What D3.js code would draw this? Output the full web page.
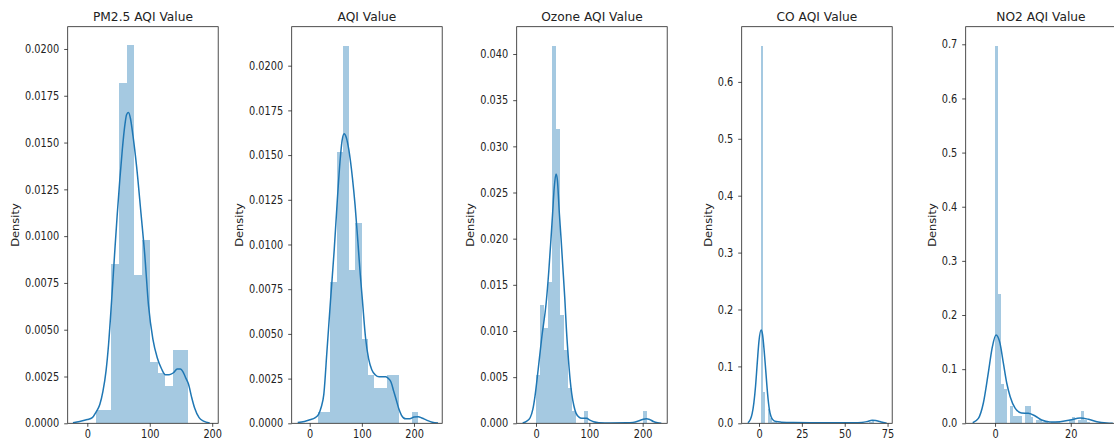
<!DOCTYPE html>
<html>
<head>
<meta charset="utf-8">
<script src="https://cdn.jsdelivr.net/npm/d3@7"></script>
<style>
  body { margin: 0; background: #fff; }
  text { font-family: "DejaVu Sans", sans-serif; fill: #222; }
</style>
</head>
<body>
<div id="chart"></div>
<script>
var svgWidth = 1114;
var svgHeight = 445;

// Panel titles
var titles = ["PM2.5 AQI Value", "AQI Value", "Ozone AQI Value", "CO AQI Value", "NO2 AQI Value"];

// Histogram bins: first edge, bin width, density per bin
var binStarts = [14, 15.9, 0.6, 1, 0];
var binWidths = [12.3, 11.96, 7.44, 1.32, 0.78125];

var pm25Hist = [0.0007, 0.0007, 0.0085, 0.0182, 0.0202, 0.0079, 0.0098, 0.0033, 0.0027, 0.0020, 0.0039, 0.0039];
var aqiHist = [0.00065, 0.00065, 0.0079, 0.0152, 0.0211, 0.0086, 0.0112, 0.0047, 0.0027, 0.0020, 0.0020, 0.0027, 0.0027, 0, 0, 0.00065];
var ozoneHist = [0.0052, 0.0128, 0.0103, 0.0153, 0.0409, 0.0319, 0.0117, 0.0079, 0.0038, 0.0013, 0, 0, 0.0013, 0, 0,
                 0, 0, 0, 0, 0, 0, 0, 0, 0, 0, 0, 0, 0.0013];
var coHist = [0.663, 0.0555, 0, 0.025, 0.009, 0.003, 0.0015, 0.001, 0, 0, 0, 0, 0, 0, 0, 0, 0, 0, 0, 0, 0, 0, 0, 0, 0,
              0, 0, 0, 0, 0, 0, 0, 0, 0, 0, 0, 0, 0, 0, 0, 0, 0, 0, 0, 0, 0, 0, 0, 0.002, 0.006];
var no2Hist = [0.697, 0.238, 0.073, 0.063, 0, 0.032, 0.013, 0.013, 0.013, 0, 0.032, 0.032, 0.012, 0, 0.006, 0.006,
               0.003, 0.003, 0, 0.002, 0.002, 0.002, 0, 0, 0, 0.006, 0.012, 0, 0.006, 0.023, 0.006, 0.003];

// KDE curves as [value, density]
var pm25Kde = [[-23, 0.00003], [-12, 0.0001], [0, 0.0002], [8, 0.0003], [14, 0.0006], [20, 0.001], [25, 0.0017],
  [30, 0.0028], [34, 0.0042], [39, 0.0066], [44, 0.0092], [48, 0.0112], [52, 0.013], [56, 0.0146], [60, 0.0159],
  [63, 0.0165], [66, 0.0166], [69, 0.0163], [73, 0.0154], [79, 0.0137], [86, 0.0112], [92, 0.0090], [98, 0.0063],
  [105, 0.0045], [112, 0.0035], [119, 0.0029], [125, 0.0026], [131, 0.0026], [138, 0.0027], [144, 0.0029],
  [149, 0.0029], [154, 0.0027], [158, 0.0024], [162, 0.0021], [167, 0.0014], [172, 0.0008], [179, 0.0003],
  [186, 0.00012], [196, 0.00002]];
var aqiKde = [[-23, 0.00005], [-10, 0.0001], [1, 0.0002], [10, 0.0003], [17, 0.0005], [22, 0.0009], [27, 0.0016],
  [33, 0.0040], [40, 0.0069], [47, 0.0097], [53, 0.0125], [58, 0.0146], [62, 0.0158], [66, 0.0162], [70, 0.016],
  [75, 0.0153], [82, 0.0137], [87, 0.0122], [92, 0.0103], [97, 0.0083], [101, 0.0069], [107, 0.0048], [113, 0.0036],
  [119, 0.0030], [126, 0.0027], [133, 0.0026], [140, 0.0026], [146, 0.0026], [151, 0.0025], [156, 0.0023],
  [161, 0.0018], [166, 0.0013], [171, 0.0008], [176, 0.00045], [184, 0.00025], [192, 0.00025], [200, 0.00035],
  [208, 0.00037], [216, 0.00028], [224, 0.00018], [235, 0.00006], [246, 0.00002]];
var ozoneKde = [[-25, 0.00003], [-18, 0.0002], [-11, 0.0006], [-6, 0.0015], [-2, 0.0029], [4, 0.0058], [11, 0.0094],
  [19, 0.013], [24, 0.0165], [28, 0.0199], [31, 0.0226], [34, 0.0254], [37.5, 0.027], [40, 0.0264], [43.7, 0.0228],
  [47, 0.0200], [50, 0.0172], [54, 0.0135], [57, 0.0102], [61, 0.0068], [64, 0.0047], [67, 0.0032], [71, 0.0019],
  [75, 0.0011], [80, 0.0007], [86, 0.00055], [91, 0.00056], [95, 0.00054], [101, 0.00035], [108, 0.00017],
  [118, 0.00007], [140, 0.00004], [170, 0.00005], [182, 0.0001], [192, 0.00025], [200, 0.00042], [207, 0.0005],
  [213, 0.00042], [220, 0.0002], [228, 0.00006], [235, 0.00001]];
var coKde = [[-6.5, 0.001], [-5, 0.007], [-4, 0.017], [-3, 0.036], [-2, 0.066], [-1, 0.107], [0, 0.145], [1.2, 0.164],
  [2, 0.157], [3, 0.128], [4, 0.09], [5, 0.052], [6, 0.025], [7, 0.012], [8.5, 0.005], [10, 0.003], [13, 0.002],
  [20, 0.0012], [30, 0.001], [45, 0.001], [55, 0.0011], [60, 0.0015], [63, 0.003], [66, 0.0055], [68, 0.005],
  [70.5, 0.003], [72.5, 0.0013], [74.5, 0.0002]];
var no2Kde = [[-5.9, 0.001], [-4.4, 0.009], [-3.1, 0.037], [-1.8, 0.092], [-0.7, 0.1415], [0.26, 0.163], [1.3, 0.148],
  [2.2, 0.111], [3.1, 0.074], [4, 0.049], [5.3, 0.028], [7, 0.019], [8.8, 0.0185], [10.6, 0.0135], [12.3, 0.006],
  [14.5, 0.0025], [17.2, 0.003], [19.8, 0.006], [22.5, 0.0098], [24.7, 0.0074], [26.9, 0.003], [29.5, 0.0006],
  [31.1, 0.0001]];

// Axis ranges and ticks
var xDomains = [[-31.4, 209.6], [-34.5, 254], [-36.2, 246], [-10.1, 77.7], [-7.75, 32]];
var yMaxes = [0.02119, 0.02218, 0.04296, 0.697, 0.7325];
var xTicks = [[0, 100, 200], [0, 100, 200], [0, 100, 200], [0, 25, 50, 75], [0, 20]];
var yTicks = [
  [0, 0.0025, 0.005, 0.0075, 0.01, 0.0125, 0.015, 0.0175, 0.02],
  [0, 0.0025, 0.005, 0.0075, 0.01, 0.0125, 0.015, 0.0175, 0.02],
  [0, 0.005, 0.01, 0.015, 0.02, 0.025, 0.03, 0.035, 0.04],
  [0, 0.1, 0.2, 0.3, 0.4, 0.5, 0.6],
  [0, 0.1, 0.2, 0.3, 0.4, 0.5, 0.6, 0.7]
];
var yFormats = [".4f", ".4f", ".3f", ".1f", ".1f"];

var hists = [pm25Hist, aqiHist, ozoneHist, coHist, no2Hist];
var kdes = [pm25Kde, aqiKde, ozoneKde, coKde, no2Kde];

// Layout (the source picture is squeezed sideways, so text is narrowed a bit)
var panelLefts = [67.7, 291.7, 516.7, 741.7, 965.7];
var panelTop = 26.7;
var plotW = 150.5;
var plotH = 396.6;
var squeeze = 0.85;

var svg = d3.select("#chart")
  .append("svg")
  .attr("width", svgWidth)
  .attr("height", svgHeight);

svg.append("rect")
  .attr("width", svgWidth)
  .attr("height", svgHeight)
  .attr("fill", "#fff");

titles.forEach(function (title, i) {
  var g = svg.append("g")
    .attr("transform", `translate(${panelLefts[i]}, ${panelTop})`);

  var x = d3.scaleLinear().domain(xDomains[i]).range([0, plotW]);
  var y = d3.scaleLinear().domain([0, yMaxes[i]]).range([plotH, 0]);

  g.append("clipPath")
    .attr("id", "clip" + i)
    .append("rect")
    .attr("width", plotW)
    .attr("height", plotH);

  var plot = g.append("g").attr("clip-path", `url(#clip${i})`);

  // Histogram bars
  var bins = hists[i].map(function (h, k) {
    return { x0: binStarts[i] + k * binWidths[i], x1: binStarts[i] + (k + 1) * binWidths[i], h: h };
  }).filter(d => d.h > 0);

  plot.selectAll("rect.bar")
    .data(bins)
    .enter()
    .append("rect")
    .attr("class", "bar")
    .attr("x", d => x(d.x0))
    .attr("width", d => x(d.x1) - x(d.x0))
    .attr("y", d => y(d.h))
    .attr("height", d => plotH - y(d.h))
    .attr("fill", "#1f77b4")
    .attr("fill-opacity", 0.4)
    .attr("shape-rendering", "crispEdges");

  // KDE line
  var line = d3.line()
    .x(d => x(d[0]))
    .y(d => y(d[1]))
    .curve(d3.curveMonotoneX);

  plot.append("path")
    .datum(kdes[i])
    .attr("d", line)
    .attr("fill", "none")
    .attr("stroke", "#1f77b4")
    .attr("stroke-width", 1.5);

  // Axes
  var bottomAxis = d3.axisBottom(x)
    .tickValues(xTicks[i])
    .tickFormat(d3.format("d"))
    .tickSize(3.5)
    .tickPadding(3.5)
    .tickSizeOuter(0);
  var leftAxis = d3.axisLeft(y)
    .tickValues(yTicks[i])
    .tickFormat(d3.format(yFormats[i]))
    .tickSize(3.5)
    .tickSizeOuter(0);

  var xAxisG = g.append("g")
    .attr("transform", `translate(0, ${plotH})`)
    .call(bottomAxis);
  var yAxisG = g.append("g")
    .call(leftAxis);

  [xAxisG, yAxisG].forEach(function (a) {
    a.select(".domain").remove();
    a.selectAll("line").attr("stroke", "#222").attr("stroke-width", 0.8);
    a.selectAll("text").attr("font-size", "11.5px").attr("fill", "#222")
      .attr("font-family", "DejaVu Sans, sans-serif");
  });
  xAxisG.selectAll("text").attr("transform", `scale(${squeeze},1)`);
  yAxisG.selectAll("text")
    .attr("x", 0)
    .attr("transform", `translate(-8.5,0) scale(${squeeze},1)`);

  // Frame
  g.append("rect")
    .attr("width", plotW)
    .attr("height", plotH)
    .attr("fill", "none")
    .attr("stroke", "#222")
    .attr("stroke-width", 0.8);

  // Labels
  var box = yAxisG.node().getBBox();
  g.append("text")
    .attr("transform", `translate(${box.x - 6}, ${plotH / 2}) rotate(-90) scale(1,${squeeze})`)
    .attr("text-anchor", "middle")
    .attr("font-size", "11.5px")
    .text("Density");

  g.append("text")
    .attr("transform", `translate(${plotW / 2}, -6) scale(0.94,1)`)
    .attr("text-anchor", "middle")
    .attr("font-size", "13px")
    .text(title);
});
</script>
</body>
</html>
